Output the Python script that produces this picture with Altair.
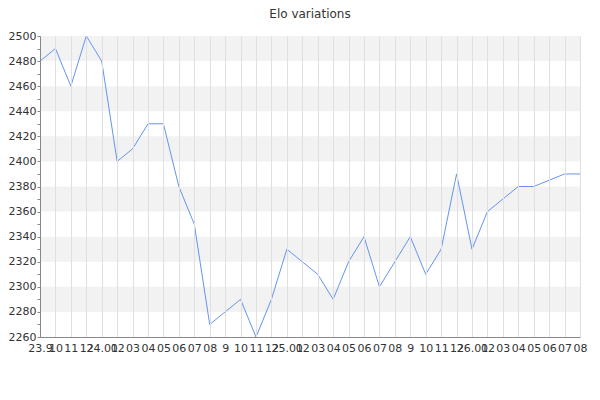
import altair as alt
import pandas as pd

labels = ["23.9", "10", "11", "12", "24.01", "02", "03", "04", "05", "06", "07", "08",
          "9", "10", "11", "12", "25.01", "02", "03", "04", "05", "06", "07", "08",
          "9", "10", "11", "12", "26.01", "02", "03", "04", "05", "06", "07", "08"]
elo = [2480, 2490, 2460, 2500, 2480, 2400, 2410, 2430, 2430, 2380, 2350, 2270,
       2280, 2290, 2260, 2290, 2330, 2320, 2310, 2290, 2320, 2340, 2300, 2320,
       2340, 2310, 2330, 2390, 2330, 2360, 2370, 2380, 2380, 2385, 2390, 2390]
band_starts = [2280, 2320, 2360, 2400, 2440, 2480]
y_major = list(range(2260, 2501, 20))
y_minor = list(range(2270, 2500, 20))

df = pd.DataFrame({"i": list(range(len(elo))), "elo": elo})
bands = pd.DataFrame({"y": band_starts, "y2": [b + 20 for b in band_starts]})

label_js = "[" + ",".join('"%s"' % l for l in labels) + "]"

xscale = alt.Scale(domain=[0, len(elo) - 1], nice=False, zero=False)
yscale = alt.Scale(domain=[2260, 2500], nice=False, zero=False)

font = "DejaVu Sans"

band_layer = alt.Chart(bands).mark_rect(color="#f2f2f2").encode(
    y=alt.Y("y:Q", scale=yscale, title=None,
            axis=alt.Axis(values=y_minor, labels=False, grid=False, domain=False,
                          tickColor="#888888", tickSize=3, orient="left", zindex=1)),
    y2="y2:Q",
)

line = alt.Chart(df).mark_line(color="#6495ED", strokeWidth=1).encode(
    x=alt.X("i:Q", scale=xscale, title=None,
            axis=alt.Axis(values=list(range(len(elo))),
                          labelExpr=label_js + "[datum.value]",
                          labelOverlap=False, labelBound=False, labelFlush=False,
                          grid=True, gridColor="#e0e0e0", ticks=False,
                          domainColor="#888888", labelFont=font, labelFontSize=11,
                          labelColor="#333333", labelPadding=5, zindex=1)),
    y=alt.Y("elo:Q", scale=yscale, title=None,
            axis=alt.Axis(values=y_major, format="d",
                          labelOverlap=False, labelBound=False, labelFlush=False,
                          gridColor="#e0e0e0", orient="left",
                          tickColor="#888888", tickSize=3, domainColor="#888888",
                          labelFont=font, labelFontSize=11, labelColor="#333333",
                          labelPadding=1, zindex=1)),
)

chart = alt.layer(band_layer, line).resolve_axis(y="independent").properties(
    width=540, height=301,
    autosize=alt.AutoSizeParams(type="none"),
    padding={"left": 32, "top": 28, "right": 12, "bottom": 40},
    title=alt.TitleParams("Elo variations", font=font, fontSize=12, fontWeight="normal",
                          color="#333333", offset=9),
).configure_view(stroke=None)

chart.save("out.html", embed_options={"renderer": "svg", "actions": False})
